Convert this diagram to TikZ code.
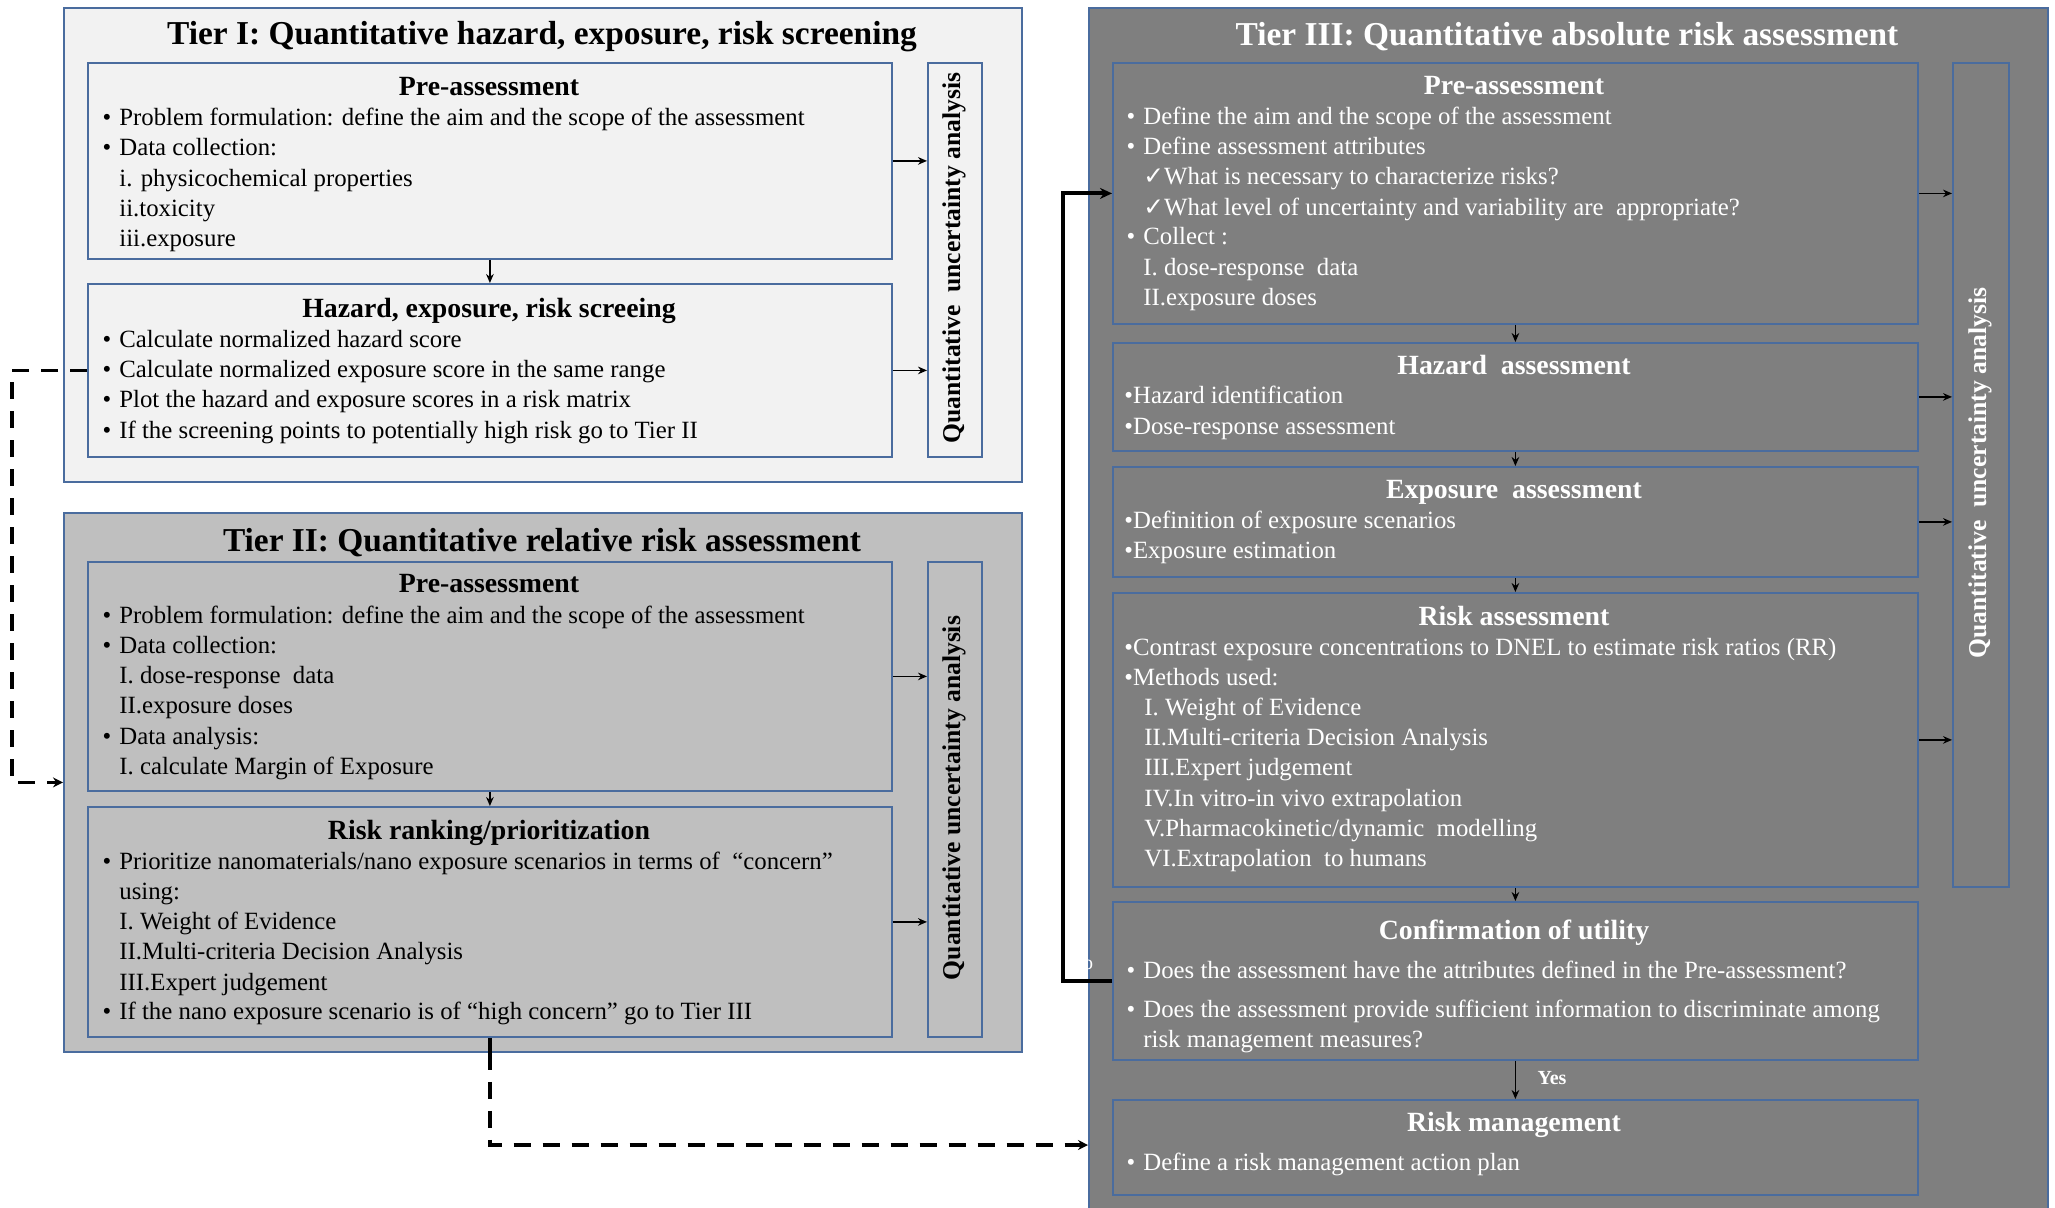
\documentclass[tikz,border=0pt]{standalone}
\usepackage{fontspec}
\setmainfont{Liberation Serif}
\newfontfamily\symfont{DejaVu Sans}
\usetikzlibrary{arrows.meta}

\definecolor{tierone}{HTML}{F2F2F2}
\definecolor{tiertwo}{HTML}{BFBFBF}
\definecolor{tierthree}{HTML}{7F7F7F}
\definecolor{edgeblue}{HTML}{4A6C9E}

% hanging bullet: the bullet sits left of the line start
\newcommand{\bul}{\makebox[0pt][r]{\textbullet\hspace{4pt}}}
\newcommand{\chk}{{\symfont ✓}}

\tikzset{
  tierbox/.style={draw=edgeblue, line width=0.9pt, anchor=north west, inner sep=0pt},
  stagebox/.style={draw=edgeblue, line width=0.9pt, anchor=north west, inner sep=0pt},
  tiertitle/.style={anchor=center, inner sep=0pt, yshift=-2pt, font=\fontsize{16.7}{19}\selectfont\bfseries},
  head/.style={anchor=center, inner sep=0pt, yshift=-1.2pt, font=\fontsize{13.9}{16}\selectfont\bfseries,
    text height=9.7pt, text depth=2.9pt},
  ln/.style={anchor=west, inner sep=0pt, yshift=-0.8pt, font=\fontsize{12.4}{15}\selectfont,
    text height=8.7pt, text depth=2.6pt},
  qua/.style={rotate=90, anchor=center, inner sep=0pt, font=\fontsize{12.8}{15}\selectfont\bfseries},
  wtxt/.style={text=white},
  arr/.style={line width=0.8pt, -{Stealth[length=4.5pt,width=3.8pt]}},
  dashlink/.style={line width=1.9pt, dash pattern=on 8.5pt off 6pt, -{Stealth[length=5pt,width=5pt]}},
  feedback/.style={line width=2pt, -{Stealth[length=6pt,width=5.5pt]}},
}

\begin{document}
\begin{tikzpicture}[x=0.5pt, y=-0.5pt]
\useasboundingbox (0,0) rectangle (2055,1207);

% ---------------- Tier I ----------------
\node[tierbox, fill=tierone, minimum width=479pt, minimum height=237pt] (t1) at (63,7) {};
\node[tiertitle] (t1title) at (542,33) {Tier I: Quantitative hazard, exposure, risk screening};
\node[stagebox, fill=tierone, minimum width=402pt, minimum height=98pt] (t1pre) at (87,62) {};
\node[stagebox, fill=tierone, minimum width=402pt, minimum height=86.5pt] (t1haz) at (87,283) {};
\node[stagebox, fill=tierone, minimum width=27pt, minimum height=197pt] (t1qua) at (927,62) {};

\node[head] (t1preh) at (489,86) {Pre-assessment};
\node[ln] (t1p1) at (119,118) {\bul Problem formulation: define the aim and the scope of the assessment};
\node[ln] (t1p2) at (119,148) {\bul Data collection:};
\node[ln] (t1p3) at (119,179) {i. physicochemical properties};
\node[ln] (t1p4) at (119,209) {ii.toxicity};
\node[ln] (t1p5) at (119,239) {iii.exposure};

\node[head] (t1hazh) at (489,308) {Hazard, exposure, risk screeing};
\node[ln] (t1h1) at (119,340) {\bul Calculate normalized hazard score};
\node[ln] (t1h2) at (119,370) {\bul Calculate normalized exposure score in the same range};
\node[ln] (t1h3) at (119,400) {\bul Plot the hazard and exposure scores in a risk matrix};
\node[ln] (t1h4) at (119,431) {\bul If the screening points to potentially high risk go to Tier II};

\node[qua] (t1quat) at (954,258) {Quantitative\ \ uncertainty analysis};

% ---------------- Tier II ----------------
\node[tierbox, fill=tiertwo, minimum width=479pt, minimum height=269.5pt] (t2) at (63,512) {};
\node[tiertitle] (t2title) at (542,539) {Tier II: Quantitative relative risk assessment};
\node[stagebox, fill=tiertwo, minimum width=402pt, minimum height=114.5pt] (t2pre) at (87,561) {};
\node[stagebox, fill=tiertwo, minimum width=402pt, minimum height=115pt] (t2rank) at (87,806) {};
\node[stagebox, fill=tiertwo, minimum width=27pt, minimum height=237.5pt] (t2qua) at (927,561) {};

\node[head] (t2preh) at (489,583) {Pre-assessment};
\node[ln] (t2p1) at (119,616) {\bul Problem formulation: define the aim and the scope of the assessment};
\node[ln] (t2p2) at (119,646) {\bul Data collection:};
\node[ln] (t2p3) at (119,676) {I. dose-response\ \ data};
\node[ln] (t2p4) at (119,706) {II.exposure doses};
\node[ln] (t2p5) at (119,737) {\bul Data analysis:};
\node[ln] (t2p6) at (119,767) {I. calculate Margin of Exposure};

\node[head] (t2rankh) at (489,830) {Risk ranking/prioritization};
\node[ln] (t2r1) at (119,862) {\bul Prioritize nanomaterials/nano exposure scenarios in terms of\ \ “concern”};
\node[ln] (t2r2) at (119,892) {using:};
\node[ln] (t2r3) at (119,922) {I. Weight of Evidence};
\node[ln] (t2r4) at (119,952) {II.Multi-criteria Decision Analysis};
\node[ln] (t2r5) at (119,983) {III.Expert judgement};
\node[ln] (t2r6) at (119,1012) {\bul If the nano exposure scenario is of “high concern” go to Tier III};

\node[qua] (t2quat) at (954,798) {Quantitative uncertainty analysis};

% ---------------- Tier III ----------------
\node[tierbox, fill=tierthree, minimum width=479.5pt, minimum height=604pt] (t3) at (1088,7) {};
\node[tiertitle, wtxt] (t3title) at (1567,33) {Tier III: Quantitative absolute risk assessment};
\node[stagebox, fill=tierthree, minimum width=402.5pt, minimum height=130.5pt] (t3pre) at (1112,62) {};
\node[stagebox, fill=tierthree, minimum width=402.5pt, minimum height=54pt] (t3haz) at (1112,342) {};
\node[stagebox, fill=tierthree, minimum width=402.5pt, minimum height=55pt] (t3exp) at (1112,466) {};
\node[stagebox, fill=tierthree, minimum width=402.5pt, minimum height=147pt] (t3risk) at (1112,592) {};
\node[stagebox, fill=tierthree, minimum width=402.5pt, minimum height=79pt] (t3conf) at (1112,901) {};
\node[stagebox, fill=tierthree, minimum width=402.5pt, minimum height=47.5pt] (t3mgmt) at (1112,1099) {};
\node[stagebox, fill=tierthree, minimum width=28pt, minimum height=412pt] (t3qua) at (1952,62) {};

\node[head, wtxt] (t3preh) at (1514,85) {Pre-assessment};
\node[ln, wtxt] (t3p1) at (1143,117) {\bul Define the aim and the scope of the assessment};
\node[ln, wtxt] (t3p2) at (1143,147) {\bul Define assessment attributes};
\node[ln, wtxt] (t3p3) at (1143,177) {\chk What is necessary to characterize risks?};
\node[ln, wtxt] (t3p4) at (1143,208) {\chk What level of uncertainty and variability are\ \ appropriate?};
\node[ln, wtxt] (t3p5) at (1143,237) {\bul Collect :};
\node[ln, wtxt] (t3p6) at (1143,268) {I. dose-response\ \ data};
\node[ln, wtxt] (t3p7) at (1143,298) {II.exposure doses};

\node[head, wtxt] (t3hazh) at (1514,365) {Hazard\ \ assessment};
\node[ln, wtxt] (t3h1) at (1124,396) {\textbullet Hazard identification};
\node[ln, wtxt] (t3h2) at (1124,427) {\textbullet Dose-response assessment};

\node[head, wtxt] (t3exph) at (1514,489) {Exposure\ \ assessment};
\node[ln, wtxt] (t3e1) at (1124,521) {\textbullet Definition of exposure scenarios};
\node[ln, wtxt] (t3e2) at (1124,551) {\textbullet Exposure estimation};

\node[head, wtxt] (t3riskh) at (1514,616) {Risk assessment};
\node[ln, wtxt] (t3r1) at (1124,648) {\textbullet Contrast exposure concentrations to DNEL to estimate risk ratios (RR)};
\node[ln, wtxt] (t3r2) at (1124,678) {\textbullet Methods used:};
\node[ln, wtxt] (t3r3) at (1144,708) {I. Weight of Evidence};
\node[ln, wtxt] (t3r4) at (1144,738) {II.Multi-criteria Decision Analysis};
\node[ln, wtxt] (t3r5) at (1144,768) {III.Expert judgement};
\node[ln, wtxt] (t3r6) at (1144,799) {IV.In vitro-in vivo extrapolation};
\node[ln, wtxt] (t3r7) at (1144,829) {V.Pharmacokinetic/dynamic\ \ modelling};
\node[ln, wtxt] (t3r8) at (1144,859) {VI.Extrapolation\ \ to humans};

\node[head, wtxt] (t3confh) at (1514,930) {Confirmation of utility};
\node[ln, wtxt] (t3c1) at (1143,971) {\bul Does the assessment have the attributes defined in the Pre-assessment?};
\node[ln, wtxt] (t3c2) at (1143,1010) {\bul Does the assessment provide sufficient information to discriminate among};
\node[ln, wtxt] (t3c3) at (1143,1040) {risk management measures?};

\node[head, wtxt] (t3mgmth) at (1514,1122) {Risk management};
\node[ln, wtxt] (t3m1) at (1143,1163) {\bul Define a risk management action plan};

\node[qua, wtxt] (t3quat) at (1980,473) {Quantitative\ \ uncertainty analysis};

% ---------------- flow inside the tiers ----------------
\draw[arr] (t1pre.south) -- (t1haz.north);
\draw[arr] (t2pre.south) -- (t2rank.north);
\draw[arr] (t3pre.south) -- (t3haz.north);
\draw[arr] (t3haz.south) -- (t3exp.north);
\draw[arr] (t3exp.south) -- (t3risk.north);
\draw[arr] (t3risk.south) -- (t3conf.north);
\draw[arr] (t3conf.south) -- (t3mgmt.north);
\node[inner sep=0pt, font=\fontsize{10}{12}\selectfont\bfseries, text=white] (yes) at (1552,1078) {Yes};

% arrows into the uncertainty columns
\draw[arr] (t1pre.east) -- (t1pre.east -| t1qua.west);
\draw[arr] (t1haz.east) -- (t1haz.east -| t1qua.west);
\draw[arr] (t2pre.east) -- (t2pre.east -| t2qua.west);
\draw[arr] (t2rank.east) -- (t2rank.east -| t2qua.west);
\draw[arr] (t3pre.east) -- (t3pre.east -| t3qua.west);
\draw[arr] (t3haz.east) -- (t3haz.east -| t3qua.west);
\draw[arr] (t3exp.east) -- (t3exp.east -| t3qua.west);
\draw[arr] (t3risk.east) -- (t3risk.east -| t3qua.west);

% ---------------- links between tiers ----------------
\coordinate (laneA) at (12,0);
\coordinate (laneB) at (0,1145);
\coordinate (laneC) at (1063,0);

\draw[dashlink] (t1haz.west) -- (t1haz.west -| laneA) |- (t2.west);
\draw[line width=1.9pt] (t2rank.south) -- (t2rank.south |- t2.south);
\draw[dashlink] (t2rank.south |- t2.south) |- (t3.west |- laneB);

% "No" loop back to the Tier III pre-assessment
\draw[feedback] (t3conf.west) -- (t3conf.west -| laneC) |- (t3pre.west);
\node[inner sep=0pt, font=\fontsize{10}{12}\selectfont, text=white] (no) at (1081,963) {No};
\end{tikzpicture}
\end{document}
